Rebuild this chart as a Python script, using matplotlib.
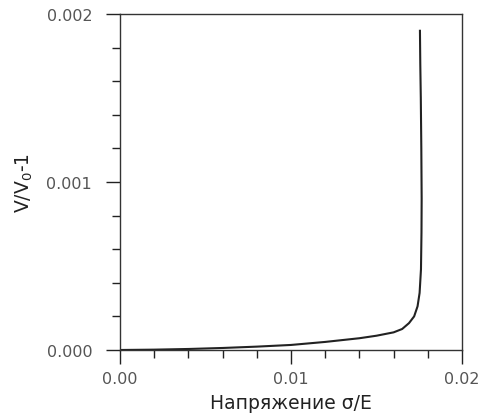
import matplotlib
matplotlib.use("Agg")
import matplotlib.pyplot as plt
from matplotlib.ticker import MultipleLocator
import numpy as np

sigma = [0.0, 0.002, 0.004, 0.006, 0.008, 0.010, 0.012, 0.014, 0.015, 0.016,
         0.0165, 0.0169, 0.0172, 0.0174, 0.01752, 0.0176, 0.01763, 0.01764,
         0.01762, 0.01759, 0.01756, 0.01754]
volume = [0.0, 0.000002, 0.000006, 0.000012, 0.00002, 0.00003, 0.000048, 0.00007,
          0.000085, 0.000105, 0.000125, 0.00016, 0.0002, 0.00026, 0.00034, 0.00048,
          0.0007, 0.0009, 0.0012, 0.0015, 0.0017, 0.0019]

plt.rcParams['font.family'] = ['DejaVu Sans']

fig = plt.figure(figsize=(4.87, 4.14), dpi=100)
ax = fig.add_axes([0.2464, 0.1522, 0.7023, 0.8116])
ax.plot(sigma, volume, color='#222222', lw=1.5)

ax.set_xlim(0, 0.02)
ax.set_ylim(0, 0.002)
ax.set_xticks([0.0, 0.01, 0.02])
ax.set_xticklabels(['0.00', '0.01', '0.02'])
ax.set_yticks([0.0, 0.001, 0.002])
ax.set_yticklabels(['0.000', '0.001', '0.002'])
ax.xaxis.set_minor_locator(MultipleLocator(0.002))
ax.yaxis.set_minor_locator(MultipleLocator(0.0002))
ax.tick_params(which='major', direction='out', length=10, width=1, colors='#222222',
               labelsize=11.5, labelcolor='#555555')
ax.tick_params(axis='y', which='major', pad=10)
ax.tick_params(axis='x', which='major', pad=5)
ax.tick_params(which='minor', direction='out', length=6, width=1, colors='#222222')
for s in ax.spines.values():
    s.set_color('#333333')
    s.set_linewidth(1)

ax.set_xlabel('Напряжение σ/E', fontsize=13.5, color='#222222', labelpad=5)
ax.set_ylabel('V/V$_0$-1', fontsize=13.5, color='#222222', labelpad=8)

fig.savefig('out.png', dpi=100)
